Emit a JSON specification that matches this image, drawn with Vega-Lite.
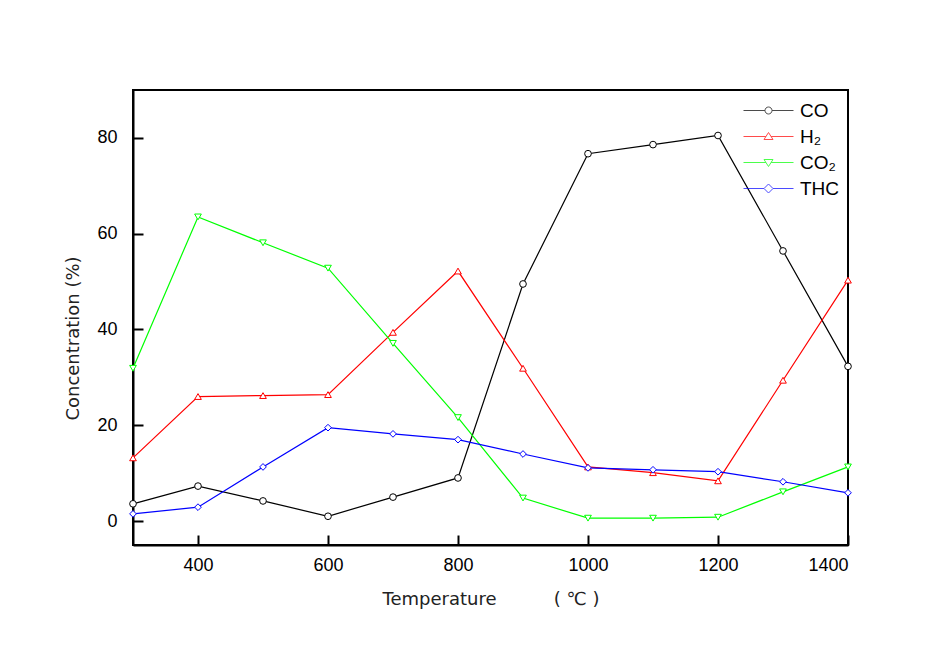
{
  "$schema": "https://vega.github.io/schema/vega-lite/v6.json",
  "width": 715,
  "height": 455,
  "autosize": "none",
  "padding": {"left": 133, "top": 90, "right": 101, "bottom": 112},
  "background": "white",
  "config": {
    "view": {"stroke": "black", "strokeWidth": 2},
    "axis": {
      "grid": false,
      "domainColor": "black",
      "domainWidth": 2,
      "tickColor": "black",
      "tickWidth": 2,
      "tickSize": -10,
      "labelFont": "Liberation Sans",
      "labelFontSize": 18,
      "labelColor": "black",
      "titleFont": "DejaVu Sans",
      "titleFontSize": 18,
      "titleFontWeight": "normal",
      "titleColor": "#222"
    }
  },
  "data": {
    "values": [
      {"T": 300, "s": "CO", "v": 3.6}, {"T": 400, "s": "CO", "v": 7.3}, {"T": 500, "s": "CO", "v": 4.2}, {"T": 600, "s": "CO", "v": 1.0},
      {"T": 700, "s": "CO", "v": 5.0}, {"T": 800, "s": "CO", "v": 9.0}, {"T": 900, "s": "CO", "v": 49.5}, {"T": 1000, "s": "CO", "v": 76.7},
      {"T": 1100, "s": "CO", "v": 78.6}, {"T": 1200, "s": "CO", "v": 80.5}, {"T": 1300, "s": "CO", "v": 56.4}, {"T": 1400, "s": "CO", "v": 32.3},
      {"T": 300, "s": "H₂", "v": 13.2}, {"T": 400, "s": "H₂", "v": 26.0}, {"T": 500, "s": "H₂", "v": 26.2}, {"T": 600, "s": "H₂", "v": 26.4},
      {"T": 700, "s": "H₂", "v": 39.4}, {"T": 800, "s": "H₂", "v": 52.2}, {"T": 900, "s": "H₂", "v": 31.9}, {"T": 1000, "s": "H₂", "v": 11.3},
      {"T": 1100, "s": "H₂", "v": 10.1}, {"T": 1200, "s": "H₂", "v": 8.4}, {"T": 1300, "s": "H₂", "v": 29.4}, {"T": 1400, "s": "H₂", "v": 50.3},
      {"T": 300, "s": "CO₂", "v": 31.9}, {"T": 400, "s": "CO₂", "v": 63.5}, {"T": 500, "s": "CO₂", "v": 58.1}, {"T": 600, "s": "CO₂", "v": 52.8},
      {"T": 700, "s": "CO₂", "v": 37.1}, {"T": 800, "s": "CO₂", "v": 21.6}, {"T": 900, "s": "CO₂", "v": 4.8}, {"T": 1000, "s": "CO₂", "v": 0.6},
      {"T": 1100, "s": "CO₂", "v": 0.6}, {"T": 1200, "s": "CO₂", "v": 0.8}, {"T": 1300, "s": "CO₂", "v": 6.1}, {"T": 1400, "s": "CO₂", "v": 11.3},
      {"T": 300, "s": "THC", "v": 1.5}, {"T": 400, "s": "THC", "v": 2.9}, {"T": 500, "s": "THC", "v": 11.3}, {"T": 600, "s": "THC", "v": 19.5},
      {"T": 700, "s": "THC", "v": 18.2}, {"T": 800, "s": "THC", "v": 17.0}, {"T": 900, "s": "THC", "v": 14.0}, {"T": 1000, "s": "THC", "v": 11.1},
      {"T": 1100, "s": "THC", "v": 10.7}, {"T": 1200, "s": "THC", "v": 10.3}, {"T": 1300, "s": "THC", "v": 8.2}, {"T": 1400, "s": "THC", "v": 5.9}
    ]
  },
  "layer": [
    {
      "mark": {"type": "line", "strokeWidth": 1.2},
      "encoding": {
        "x": {"field": "T", "type": "quantitative", "scale": {"domain": [300, 1400], "nice": false, "zero": false},
              "axis": {"values": [400, 600, 800, 1000, 1200, 1400], "format": "d", "labelPadding": 21, "title": "Temperature\u00a0\u00a0\u00a0\u00a0\u00a0\u00a0\u00a0\u00a0\u00a0\u00a0( ℃ )", "titleY": 54, "titleBaseline": "middle"}},
        "y": {"field": "v", "type": "quantitative", "scale": {"domain": [-5, 90], "nice": false, "zero": false},
              "axis": {"values": [0, 20, 40, 60, 80], "format": "d", "labelPadding": 26, "title": "Concentration (%)", "titleX": -60, "titleY": 248, "titleBaseline": "middle", "titleAngle": -90}},
        "color": {"field": "s", "type": "nominal", "scale": {"domain": ["CO", "H₂", "CO₂", "THC"], "range": ["#000000", "#ff0000", "#00ff00", "#0000ff"]}, "legend": null},
        "detail": {"field": "s"}
      }
    },
    {
      "mark": {"type": "point", "filled": false, "size": 45, "strokeWidth": 1, "fill": "white", "opacity": 1},
      "encoding": {
        "x": {"field": "T", "type": "quantitative"},
        "y": {"field": "v", "type": "quantitative"},
        "color": {"field": "s", "type": "nominal", "scale": {"domain": ["CO", "H₂", "CO₂", "THC"], "range": ["#000000", "#ff0000", "#00ff00", "#0000ff"]}, "legend": null},
        "shape": {"field": "s", "type": "nominal", "scale": {"domain": ["CO", "H₂", "CO₂", "THC"], "range": ["circle", "triangle-up", "triangle-down", "diamond"]}, "legend": null}
      }
    },
    {
      "transform": [{"filter": "false"}],
      "mark": {"type": "point", "filled": false, "size": 100, "strokeWidth": 1},
      "encoding": {
        "color": {"field": "s", "type": "nominal", "scale": {"domain": ["CO", "H₂", "CO₂", "THC"], "range": ["#000000", "#ff0000", "#00ff00", "#0000ff"]},
                  "legend": {"title": null, "orient": "none", "legendX": 626, "legendY": 11, "symbolSize": 100, "symbolStrokeWidth": 1, "labelFont": "Liberation Sans", "labelFontSize": 19, "labelColor": "black", "labelOffset": 22, "rowPadding": 6}},
        "shape": {"field": "s", "type": "nominal", "scale": {"domain": ["CO", "H₂", "CO₂", "THC"], "range": [
          "M-5,0H-0.7M0.7,0H5M0.7,0A0.7,0.7,0,1,1,-0.7,0A0.7,0.7,0,1,1,0.7,0",
          "M-5,0H-0.5M0.5,0H5M0,-0.8L0.9,0.6L-0.9,0.6Z",
          "M-5,0H-0.5M0.5,0H5M0,0.8L0.9,-0.6L-0.9,-0.6Z",
          "M-5,0H-0.9M0.9,0H5M0,-0.9L0.9,0L0,0.9L-0.9,0Z"
        ]},
                  "legend": {"title": null, "orient": "none", "legendX": 626, "legendY": 11, "symbolSize": 100, "symbolStrokeWidth": 1, "labelFont": "Liberation Sans", "labelFontSize": 19, "labelColor": "black", "labelOffset": 22, "rowPadding": 6}}
      }
    }
  ],
  "resolve": {"scale": {"color": "independent", "shape": "independent"}}
}
